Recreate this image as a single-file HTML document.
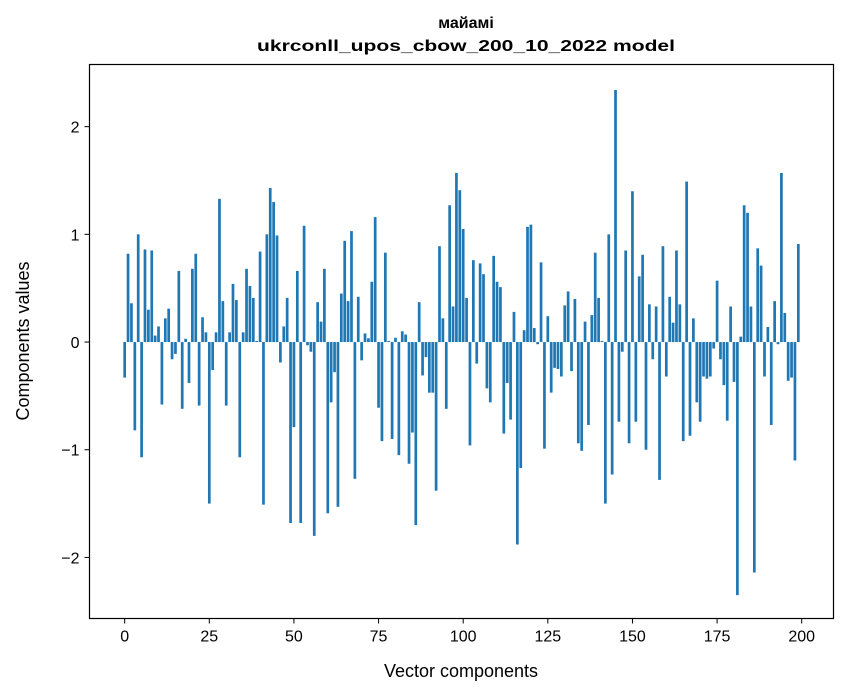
<!DOCTYPE html>
<html><head><meta charset="utf-8">
<style>
html,body{margin:0;padding:0;background:#fff;}
svg{display:block;font-family:"Liberation Sans","DejaVu Sans",sans-serif;}
</style></head>
<body>
<svg id="chart" width="847" height="696" viewBox="0 0 847 696" xmlns="http://www.w3.org/2000/svg">
<rect x="0" y="0" width="847" height="696" fill="#fff"/>
<text x="466" y="28" text-anchor="middle" font-size="16" font-weight="bold">майамі</text>
<text x="466" y="51" text-anchor="middle" font-size="16" font-weight="bold" textLength="418" lengthAdjust="spacingAndGlyphs">ukrconll_upos_cbow_200_10_2022 model</text>
<g id="bars"></g>
<g id="xticks"></g>
<g id="yticks"></g>
<rect x="89.5" y="64.5" width="744" height="554" fill="none" stroke="#000" stroke-width="1.2"/>
<text x="461" y="677" text-anchor="middle" font-size="18">Vector components</text>
<text x="0" y="0" transform="translate(29,341) rotate(-90)" text-anchor="middle" font-size="18">Components values</text>
</svg>
<script>
const values = [
-0.33,0.82,0.36,-0.82,1.0,-1.07,0.86,0.30,0.85,0.06,
0.145,-0.58,0.22,0.31,-0.16,-0.11,0.66,-0.62,0.03,-0.38,
0.68,0.82,-0.59,0.23,0.09,-1.50,-0.26,0.09,1.33,0.38,
-0.59,0.09,0.54,0.39,-1.07,0.09,0.68,0.52,0.41,0.01,
0.84,-1.51,1.0,1.43,1.30,0.99,-0.19,0.145,0.41,-1.68,
-0.79,0.66,-1.68,1.08,-0.03,-0.09,-1.80,0.37,0.19,0.68,
-1.59,-0.56,-0.28,-1.53,0.45,0.94,0.38,1.03,-1.27,0.42,
-0.17,0.08,0.035,0.56,1.16,-0.61,-0.92,0.83,0.01,-0.90,
0.04,-1.05,0.10,0.07,-1.13,-0.84,-1.70,0.37,-0.31,-0.14,
-0.47,-0.47,-1.38,0.89,0.22,-0.62,1.27,0.33,1.57,1.41,
1.05,0.41,-0.96,0.76,-0.20,0.73,0.63,-0.43,-0.56,0.80,
0.56,0.51,-0.85,-0.38,-0.72,0.28,-1.88,-1.17,0.11,1.07,
1.09,0.13,-0.02,0.74,-0.99,0.24,-0.47,-0.24,-0.25,-0.32,
0.34,0.47,-0.27,0.40,-0.94,-1.01,0.19,-0.77,0.25,0.83,
0.41,0.01,-1.50,1.00,-1.23,2.34,-0.74,-0.09,0.85,-0.94,
1.40,-0.74,0.61,0.81,-1.00,0.35,-0.16,0.33,-1.28,0.89,
-0.32,0.42,0.18,0.85,0.35,-0.92,1.49,-0.87,0.22,-0.56,
-0.74,-0.32,-0.34,-0.32,-0.06,0.57,-0.16,-0.40,-0.73,0.33,
-0.37,-2.35,0.05,1.27,1.20,0.33,-2.14,0.87,0.71,-0.32,
0.14,-0.77,0.38,-0.02,1.57,0.27,-0.36,-0.33,-1.10,0.91
];
const xTickValues = [0,25,50,75,100,125,150,175,200];
const yTickValues = [-2,-1,0,1,2];
const yTickLabels = ["\u22122","\u22121","0","1","2"];

const NS = "http://www.w3.org/2000/svg";
const plotL = 89.5, plotR = 833.5, plotT = 64.5, plotB = 618.5;
const xMin = -10.39, xMax = 209.39, yMin = -2.567, yMax = 2.577;
function xScale(v){ return plotL + (v - xMin) / (xMax - xMin) * (plotR - plotL); }
function yScale(v){ return plotB - (v - yMin) / (yMax - yMin) * (plotB - plotT); }

const barsG = document.getElementById('bars');
values.forEach(function(v, i){
  const r = document.createElementNS(NS, 'rect');
  const x0 = xScale(i - 0.4), x1 = xScale(i + 0.4);
  const y0 = yScale(Math.max(v, 0)), y1 = yScale(Math.min(v, 0));
  r.setAttribute('x', x0);
  r.setAttribute('width', x1 - x0);
  r.setAttribute('y', y0);
  r.setAttribute('height', Math.max(y1 - y0, 0.3));
  r.setAttribute('fill', '#1f77b4');
  
  
  barsG.appendChild(r);
});

const xg = document.getElementById('xticks');
xTickValues.forEach(function(t){
  const x = xScale(t);
  const l = document.createElementNS(NS, 'line');
  l.setAttribute('x1', x); l.setAttribute('x2', x);
  l.setAttribute('y1', plotB); l.setAttribute('y2', plotB + 5);
  l.setAttribute('stroke', '#000');
  
  
  xg.appendChild(l);
  const tx = document.createElementNS(NS, 'text');
  tx.setAttribute('x', x); tx.setAttribute('y', plotB + 23);
  tx.setAttribute('text-anchor', 'middle');
  tx.setAttribute('font-size', '16');
  tx.textContent = String(t);
  
  
  xg.appendChild(tx);
});

const yg = document.getElementById('yticks');
yTickValues.forEach(function(t, k){
  const y = yScale(t);
  const l = document.createElementNS(NS, 'line');
  l.setAttribute('x1', plotL - 5); l.setAttribute('x2', plotL);
  l.setAttribute('y1', y); l.setAttribute('y2', y);
  l.setAttribute('stroke', '#000');
  
  
  yg.appendChild(l);
  const tx = document.createElementNS(NS, 'text');
  tx.setAttribute('x', plotL - 10); tx.setAttribute('y', y + 6);
  tx.setAttribute('text-anchor', 'end');
  tx.setAttribute('font-size', '16');
  tx.textContent = yTickLabels[k];
  
  
  yg.appendChild(tx);
});
</script>
</body></html>
